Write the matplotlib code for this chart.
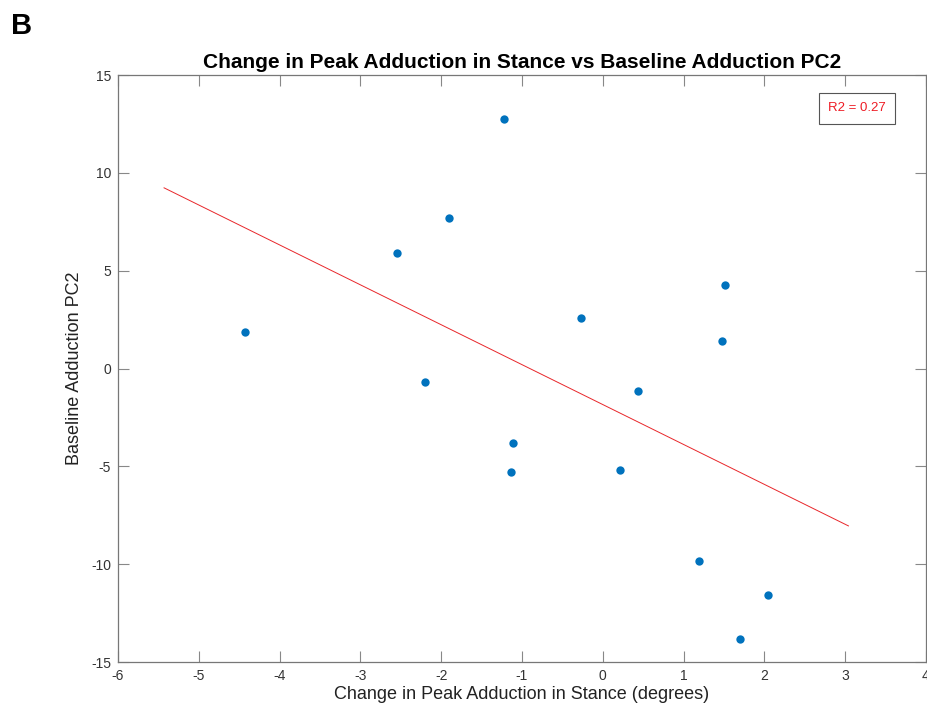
import numpy as np
import matplotlib.pyplot as plt

plt.rcParams['font.family'] = ['Liberation Sans', 'DejaVu Sans']
plt.rcParams['axes.unicode_minus'] = False

# change in peak adduction in stance (deg) vs baseline adduction PC2
change_deg = np.array([-4.43, -2.55, -1.90, -1.22, -2.20, -1.11, -1.14, -0.27,
                       0.44, 0.21, 1.51, 1.48, 1.19, 2.04, 1.70])
baseline_pc2 = np.array([1.84, 5.89, 7.68, 12.75, -0.67, -3.79, -5.27, 2.56,
                         -1.13, -5.17, 4.25, 1.38, -9.83, -11.57, -13.82])
r2_label = 'R2 = 0.27'

# least squares fit, drawn one unit past the data on each side
slope, icpt = np.polyfit(change_deg, baseline_pc2, 1)
xfit = np.array([change_deg.min() - 1, change_deg.max() + 1])
yfit = slope * xfit + icpt

fig = plt.figure(figsize=(9.28, 7.13), dpi=100)
ax = fig.add_axes([118/928, 1 - 662/713, 808/928, 587/713])

ax.plot(xfit, yfit, color='#e8262a', lw=0.7)
ax.plot(change_deg, baseline_pc2, 'o', color='#0072BD', ms=6, mec='none')

ax.set_xlim(-6, 4)
ax.set_ylim(-15, 15)
ax.set_xticks(np.arange(-6, 5, 1))
ax.set_yticks(np.arange(-15, 16, 5))

for s in ax.spines.values():
    s.set_color('#777777')
    s.set_linewidth(0.9)
ax.tick_params(direction='in', length=8, width=0.8, color='#888888',
               labelsize=10, labelcolor='#333333', top=True, right=True, pad=5)

ax.set_xlabel('Change in Peak Adduction in Stance (degrees)', fontsize=13,
              color='#222222', labelpad=2)
ax.set_ylabel('Baseline Adduction PC2', fontsize=13, color='#222222', labelpad=6)
ax.set_title('Change in Peak Adduction in Stance vs Baseline Adduction PC2',
             fontsize=15, fontweight='bold', pad=5)

ax.text(0.915, 0.943, r2_label, transform=ax.transAxes, color='#ee1c25',
        fontsize=9.5, ha='center', va='center',
        bbox=dict(boxstyle='square,pad=0.7', fc='white', ec='#555555', lw=0.8))

fig.text(11/928, 1 - 26/713, 'B', fontsize=21, fontweight='bold', va='center')

fig.savefig('out.png', dpi=100)
